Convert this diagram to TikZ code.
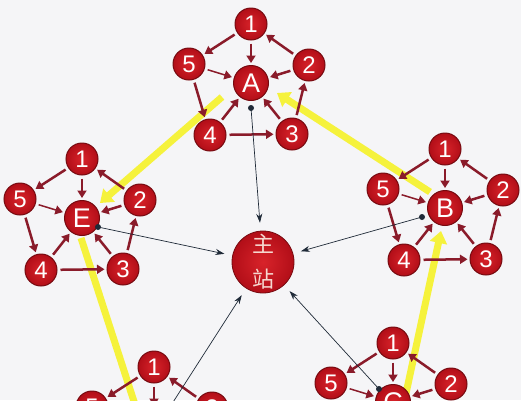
\documentclass[tikz,border=0pt]{standalone}
\usepackage{fontspec}
\setmainfont{Liberation Sans}
\newfontfamily\cjk{Noto Sans CJK SC}
\usetikzlibrary{arrows.meta,calc}
\definecolor{bgc}{HTML}{F5F5F7}
\definecolor{nodein}{HTML}{D8232A}
\definecolor{nodeout}{HTML}{B20E18}
\definecolor{nodeedge}{HTML}{760A10}
\definecolor{rarc}{HTML}{8A1B2A}
\definecolor{yelc}{HTML}{F5F23C}
\definecolor{blkc}{HTML}{1F2A38}
\definecolor{cjkc}{HTML}{F6D8D0}
\tikzset{
  sat/.style={circle, minimum size=32pt, inner sep=0pt, draw=nodeedge, line width=1pt,
    shading=radial, inner color=nodein, outer color=nodeout, text=white,
    font=\fontsize{24}{24}\selectfont},
  ctr/.style={sat, minimum size=35pt, font=\fontsize{27}{27}\selectfont},
  rar/.style={draw=rarc, line width=2.5pt, -{Triangle[length=7.5pt,width=9pt]},
    shorten <=3pt, shorten >=2pt},
  yel/.style={draw=yelc, line width=7pt, -{Triangle[length=12pt,width=17pt]}},
  blk/.style={draw=blkc, line width=0.7pt, -{Stealth[length=9pt,width=6pt]}, shorten >=8pt},
  dotc/.style={fill=blkc},
  mainst/.style={circle, minimum size=62pt, inner sep=0pt, draw=nodeedge, line width=0.8pt,
    shading=radial, inner color=nodein, outer color=nodeout, text=cjkc, align=center,
    font=\cjk\fontsize{22}{35}\selectfont}
}
\newcommand\mkcluster[4]{%
\begin{scope}[shift={(#2,#3)}]
\node[ctr] (#1) at (0,0) {#4};
\node[sat] (#1-1) at (0,-59) {1};
\node[sat] (#1-2) at (58,-18) {2};
\node[sat] (#1-3) at (41,51) {3};
\node[sat] (#1-4) at (-41,52) {4};
\node[sat] (#1-5) at (-62,-19) {5};
\draw[rar] (#1-1) -- (#1-5);
\draw[rar] (#1-1) -- (#1);
\draw[rar] (#1-2) -- (#1-1);
\draw[rar] (#1-2) -- (#1);
\draw[rar,line width=1.5pt] (#1-5) -- (#1);
\draw[rar] (#1-5) -- (#1-4);
\draw[rar] (#1-4) -- (#1);
\draw[rar] (#1-4) -- (#1-3);
\draw[rar] (#1-3) -- (#1);
\draw[rar] (#1-3) -- (#1-2);
\end{scope}}
\begin{document}
\begin{tikzpicture}[x=1pt,y=-1pt]
\useasboundingbox (0,0) rectangle (521,400);
\clip (0,0) rectangle (521,400);
\fill[bgc] (0,0) rectangle (521,400);
% yellow flow arrows
\coordinate (yb) at (430,192);
\coordinate (ya) at (277,93);
\coordinate (ya2) at (222,97);
\coordinate (ye) at (100,203);
\coordinate (ye2) at (81,238);
\coordinate (yd) at (140,420);
\coordinate (yc) at (405,398);
\coordinate (yb2) at (441,231);
\draw[yel] (yb) -- (ya);
\draw[yel] (ya2) -- (ye);
\draw[yel] (ye2) -- (yd);
\draw[yel] (yc) -- (yb2);
% clusters
\mkcluster{A}{251}{83}{A}
\mkcluster{B}{445}{208}{B}
\mkcluster{C}{393}{402}{C}
\mkcluster{D}{154}{426}{D}
\mkcluster{E}{82}{218}{E}
% main station
\node[mainst] (main) at (263,262) {主\\站};
% thin links to main station
\coordinate (Ad) at (251,108);
\coordinate (Bd) at (422,217);
\coordinate (Cd) at (379,389);
\coordinate (Dd) at (168,410);
\coordinate (Ed) at (98,227);
\foreach \d in {Ad,Bd,Cd,Dd,Ed}{
  \draw[blk] (\d) -- (main);
  \fill[dotc] (\d) circle (3);
}
\end{tikzpicture}
\end{document}
